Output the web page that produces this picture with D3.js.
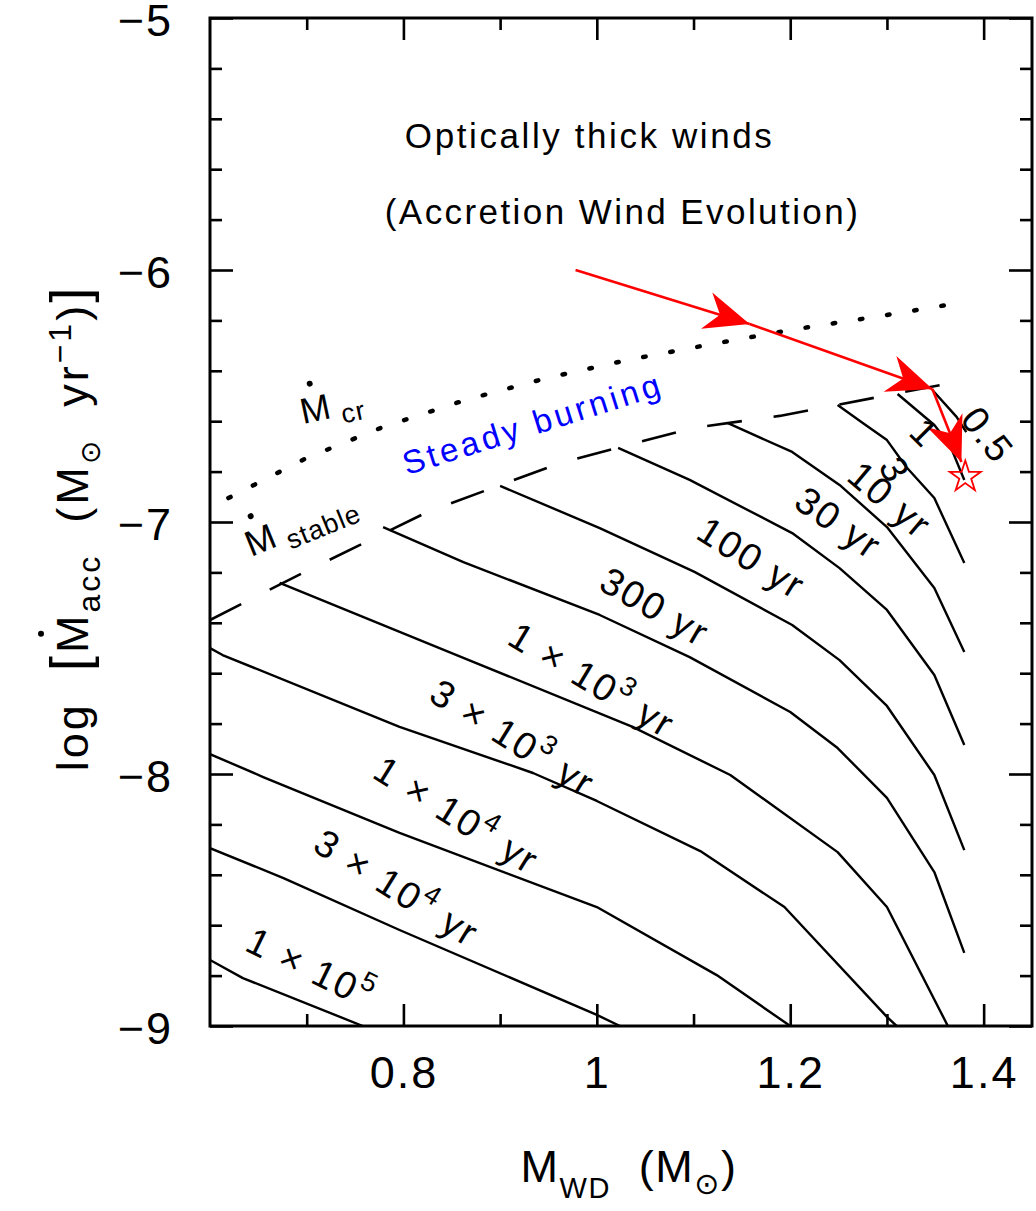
<!DOCTYPE html>
<html><head><meta charset="utf-8">
<script src="https://cdn.jsdelivr.net/npm/d3@7"></script>
<style>body{margin:0;background:#fff}</style>
</head><body>
<svg id="c" width="1036" height="1211" xmlns="http://www.w3.org/2000/svg"></svg>
<script>
// ---------- data ----------
const xDomain = [0.6, 1.45];
const yDomain = [-9, -5];
const xMajorTicks = [0.8, 1.0, 1.2, 1.4];
const xTickLabels = ["0.8", "1", "1.2", "1.4"];
const xMinorTicks = [0.7, 0.9, 1.1, 1.3];
const yMajorTicks = [-9, -8, -7, -6, -5];
const yTickLabels = ["\u22129", "\u22128", "\u22127", "\u22126", "\u22125"];
const yMinorTicks = [-8.8,-8.6,-8.4,-8.2,-7.8,-7.6,-7.4,-7.2,-6.8,-6.6,-6.4,-6.2,-5.8,-5.6,-5.4,-5.2];

// recurrence-time contours: [M_WD, log Mdot]
const curve_1e5 = [[0.600,-8.738],[0.634,-8.810],[0.758,-9.000]];
const curve_3e4 = [[0.600,-8.294],[0.676,-8.413],[0.796,-8.619],[1.000,-8.956],[1.024,-9.000]];
const curve_1e4 = [[0.600,-7.921],[0.655,-8.012],[0.796,-8.234],[1.000,-8.528],[1.124,-8.798],[1.200,-9.000]];
const curve_3e3 = [[0.600,-7.500],[0.613,-7.528],[0.796,-7.813],[0.934,-7.996],[1.000,-8.107],[1.107,-8.306],[1.194,-8.528],[1.300,-8.964],[1.310,-9.000]];
const curve_1e3 = [[0.672,-7.242],[0.855,-7.528],[1.037,-7.813],[1.138,-8.004],[1.249,-8.310],[1.300,-8.528],[1.363,-9.000]];
const curve_300 = [[0.779,-7.020],[0.862,-7.159],[1.003,-7.369],[1.096,-7.536],[1.200,-7.754],[1.249,-7.897],[1.300,-8.095],[1.349,-8.389],[1.380,-8.710]];
const curve_100 = [[0.900,-6.857],[1.003,-7.024],[1.101,-7.198],[1.202,-7.409],[1.251,-7.548],[1.300,-7.730],[1.349,-8.004],[1.380,-8.302]];
const curve_30  = [[1.022,-6.706],[1.096,-6.833],[1.202,-7.044],[1.251,-7.183],[1.300,-7.349],[1.349,-7.607],[1.380,-7.885]];
const curve_10  = [[1.135,-6.607],[1.202,-6.722],[1.251,-6.853],[1.300,-7.020],[1.349,-7.262],[1.380,-7.516]];
const curve_3   = [[1.249,-6.536],[1.275,-6.607],[1.300,-6.675],[1.320,-6.782],[1.349,-6.905],[1.380,-7.163]];
const curve_1   = [[1.311,-6.492],[1.349,-6.615],[1.365,-6.694],[1.380,-6.833]];
const curve_05  = [[1.347,-6.476],[1.372,-6.583],[1.382,-6.643]];

// stability boundaries
const mdotStable = [[0.600,-7.389],[0.696,-7.202],[0.825,-6.960],[0.962,-6.766],[1.099,-6.627],[1.189,-6.579],[1.382,-6.437]];
const mdotCr = [[0.619,-6.905],[0.700,-6.746],[0.779,-6.623],[0.864,-6.516],[0.948,-6.429],[1.032,-6.357],[1.119,-6.294],[1.207,-6.234],[1.293,-6.183],[1.380,-6.127]];

// accretion wind evolution track (red)
const track = [[0.978,-6.000],[1.158,-6.214],[1.347,-6.472],[1.377,-6.762]];
const trackEnd = [1.381,-6.821];

// contour labels: [text, superscript, tail, M_WD, logMdot, angle]
const contourLabels = [
  ["0.5", "", "", 1.404, -6.655, 52],
  ["1", "", "", 1.339, -6.647, 45],
  ["3", "", "", 1.308, -6.794, 62],
  ["10 yr", "", "", 1.303, -6.913, 40],
  ["30 yr", "", "", 1.250, -7.004, 35],
  ["100 yr", "", "", 1.160, -7.143, 32],
  ["300 yr", "", "", 1.060, -7.337, 30],
  ["1 \u00d7 10", "3", " yr", 0.995, -7.627, 31],
  ["3 \u00d7 10", "3", " yr", 0.913, -7.857, 32],
  ["1 \u00d7 10", "4", " yr", 0.855, -8.163, 32],
  ["3 \u00d7 10", "4", " yr", 0.793, -8.452, 32],
  ["1 \u00d7 10", "5", "", 0.704, -8.770, 26]
];

// ---------- drawing ----------
const font = "'Liberation Sans', Arial, Helvetica, sans-serif";
const svg = d3.select("#c");
svg.append("rect").attr("width",1036).attr("height",1211).attr("fill","#fff");

const X0 = 210, X1 = 1032, Y0 = 18, Y1 = 1026;
const x = d3.scaleLinear().domain(xDomain).range([X0, X1]);
const y = d3.scaleLinear().domain(yDomain).range([Y1, Y0]);
const line = d3.line().x(d => x(d[0])).y(d => y(d[1]));

const defs = svg.append("defs");
defs.append("clipPath").attr("id","plot").append("rect")
  .attr("x",X0).attr("y",Y0).attr("width",X1-X0).attr("height",Y1-Y0);
defs.append("marker").attr("id","arr").attr("markerUnits","userSpaceOnUse")
  .attr("viewBox","-50 -24 54 48").attr("markerWidth",54).attr("markerHeight",48)
  .attr("refX",0).attr("refY",0).attr("orient","auto")
  .append("path").attr("d","M0,0 L-45,-19 L-31,0 L-45,19 Z").attr("fill","#ff0000");

const plot = svg.append("g").attr("clip-path","url(#plot)");

const curves = [curve_1e5, curve_3e4, curve_1e4, curve_3e3, curve_1e3, curve_300, curve_100, curve_30, curve_10, curve_3, curve_1, curve_05];
plot.selectAll("path.contour").data(curves).join("path").attr("class","contour")
  .attr("d", line).attr("fill","none").attr("stroke","#000").attr("stroke-width",2.4)
  .attr("stroke-linejoin","round");

plot.append("path").attr("d", line(mdotStable)).attr("fill","none").attr("stroke","#000")
  .attr("stroke-width",2.6).attr("stroke-dasharray","35,32");
plot.append("path").attr("d", line(mdotCr)).attr("fill","none").attr("stroke","#000")
  .attr("stroke-width",4.5).attr("stroke-linecap","round").attr("stroke-dasharray","2.5,25");

// red track with arrowheads
for (let i = 0; i < track.length - 1; i++) {
  svg.append("path").attr("d", line([track[i], track[i+1]])).attr("fill","none")
    .attr("stroke","#ff0000").attr("stroke-width",2.6).attr("marker-end","url(#arr)");
}
svg.append("path").attr("d", d3.symbol(d3.symbolStar).size(300)())
  .attr("transform", `translate(${x(trackEnd[0])},${y(trackEnd[1])})`)
  .attr("fill","none").attr("stroke","#ff0000").attr("stroke-width",1.8);

// frame
svg.append("rect").attr("x",X0).attr("y",Y0).attr("width",X1-X0).attr("height",Y1-Y0)
  .attr("fill","none").attr("stroke","#000").attr("stroke-width",3);

// axes
function styleAxis(g) {
  g.select(".domain").remove();
  g.selectAll(".tick line").attr("stroke","#000").attr("stroke-width",2.6);
  g.attr("font-family", font).attr("font-size", 45);
  g.selectAll(".tick text").attr("fill","#000").attr("letter-spacing", 2);
}
svg.append("g").attr("transform",`translate(0,${Y1})`)
  .call(d3.axisBottom(x).tickValues(xMajorTicks).tickSize(-22).tickSizeOuter(0).tickPadding(30)
        .tickFormat((d,i) => xTickLabels[i])).call(styleAxis);
svg.append("g").attr("transform",`translate(0,${Y1})`)
  .call(d3.axisBottom(x).tickValues(xMinorTicks).tickSize(-12).tickFormat("")).call(styleAxis);
svg.append("g").attr("transform",`translate(0,${Y0})`)
  .call(d3.axisTop(x).tickValues(xMajorTicks).tickSize(-22).tickFormat("")).call(styleAxis);
svg.append("g").attr("transform",`translate(0,${Y0})`)
  .call(d3.axisTop(x).tickValues(xMinorTicks).tickSize(-12).tickFormat("")).call(styleAxis);
const yAx = svg.append("g").attr("transform",`translate(${X0},0)`)
  .call(d3.axisLeft(y).tickValues(yMajorTicks).tickSize(-23).tickPadding(37)
        .tickFormat((d,i) => yTickLabels[i])).call(styleAxis);
yAx.selectAll(".tick text").attr("dy","0.38em");
svg.append("g").attr("transform",`translate(${X0},0)`)
  .call(d3.axisLeft(y).tickValues(yMinorTicks).tickSize(-12).tickFormat("")).call(styleAxis);
svg.append("g").attr("transform",`translate(${X1},0)`)
  .call(d3.axisRight(y).tickValues(yMajorTicks).tickSize(-23).tickFormat("")).call(styleAxis);
svg.append("g").attr("transform",`translate(${X1},0)`)
  .call(d3.axisRight(y).tickValues(yMinorTicks).tickSize(-12).tickFormat("")).call(styleAxis);

// rich text helper: parts = [{t, size, shift(px, +down), font}]
function rich(parent, parts, o) {
  const t = parent.append("text").attr("font-family", font).attr("font-size", o.size)
    .attr("text-anchor", o.anchor || "middle").attr("fill", o.fill || "#000")
    .attr("x", o.x || 0).attr("y", o.y || 0).attr("xml:space","preserve");
  if (o.ls != null) t.attr("letter-spacing", o.ls);
  if (o.ws != null) t.attr("word-spacing", o.ws);
  if (o.len) t.attr("textLength", o.len).attr("lengthAdjust","spacing");
  let cur = 0;
  parts.forEach(p => {
    const s = t.append("tspan").text(p.t);
    if (p.size) s.attr("font-size", p.size);
    if (p.font) s.attr("font-family", p.font);
    const sh = p.shift || 0;
    if (sh - cur !== 0) s.attr("dy", sh - cur);
    cur = sh;
  });
  return t;
}

// contour labels
contourLabels.forEach(([a, sup, tail, m, v, ang]) => {
  const g = svg.append("g").attr("transform", `translate(${x(m)},${y(v)}) rotate(${ang})`);
  const parts = [{t: a}];
  if (sup) parts.push({t: sup, size: 27, shift: -17});
  if (tail) parts.push({t: tail, shift: 0});
  rich(g, parts, {size: 38, ls: 2.2, y: 13});
});

// region texts
rich(svg, [{t:"Optically thick winds"}], {size: 35, x: x(0.9912), y: y(-5.516), len: 367});
rich(svg, [{t:"(Accretion Wind Evolution)"}], {size: 35, x: x(1.0253), y: y(-5.817), len: 473});
{
  const g = svg.append("g").attr("transform", `translate(${x(0.9355)},${y(-6.655)}) rotate(-17.5)`);
  rich(g, [{t:"Steady burning"}], {size: 33, fill: "#0000ff", len: 268});
}

// Mdot_cr and Mdot_stable labels
function mdotLabel(m, v, ang, sub) {
  const g = svg.append("g").attr("transform", `translate(${x(m)},${y(v)}) rotate(${ang})`);
  rich(g, [{t:"M"}, {t: sub, size: 27, shift: 8}], {size: 36, anchor: "start", ls: 1});
  g.append("circle").attr("cx", 15).attr("cy", -38).attr("r", 3).attr("fill", "#000");
}
mdotLabel(0.6961, -6.611, -12, " cr");
mdotLabel(0.6424, -7.139, -22, " stable");

// x-axis title
rich(svg, [{t:"M"}, {t:"WD", size: 29, shift: 16}, {t:"\u00a0\u00a0(M", shift: 0}, {t:"\u2299", size: 30, shift: 12, font: "'DejaVu Sans', sans-serif"}, {t:")", shift: 0}],
  {size: 45, x: 629, y: 1182, ls: 1.5});

// y-axis title
{
  const g = svg.append("g").attr("transform", `translate(88,528) rotate(-90)`);
  const t = rich(g, [
    {t:"log\u00a0\u00a0"}, {t:"[", size: 54}, {t:"M"}, {t:"acc", size: 32, shift: 12},
    {t:"\u00a0\u00a0(M", shift: 0}, {t:"\u2299", size: 28, shift: 12, font: "'DejaVu Sans', sans-serif"},
    {t:"\u00a0\u00a0yr", shift: 0}, {t:"\u22121", size: 32, shift: -17}, {t:")", shift: 0}, {t:"]", size: 54}
  ], {size: 45, ls: 3});
  const e = t.node().getExtentOfChar(6);
  g.append("circle").attr("cx", e.x + e.width / 2 - 1).attr("cy", -47).attr("r", 3).attr("fill", "#000");
}
</script>
</body></html>
